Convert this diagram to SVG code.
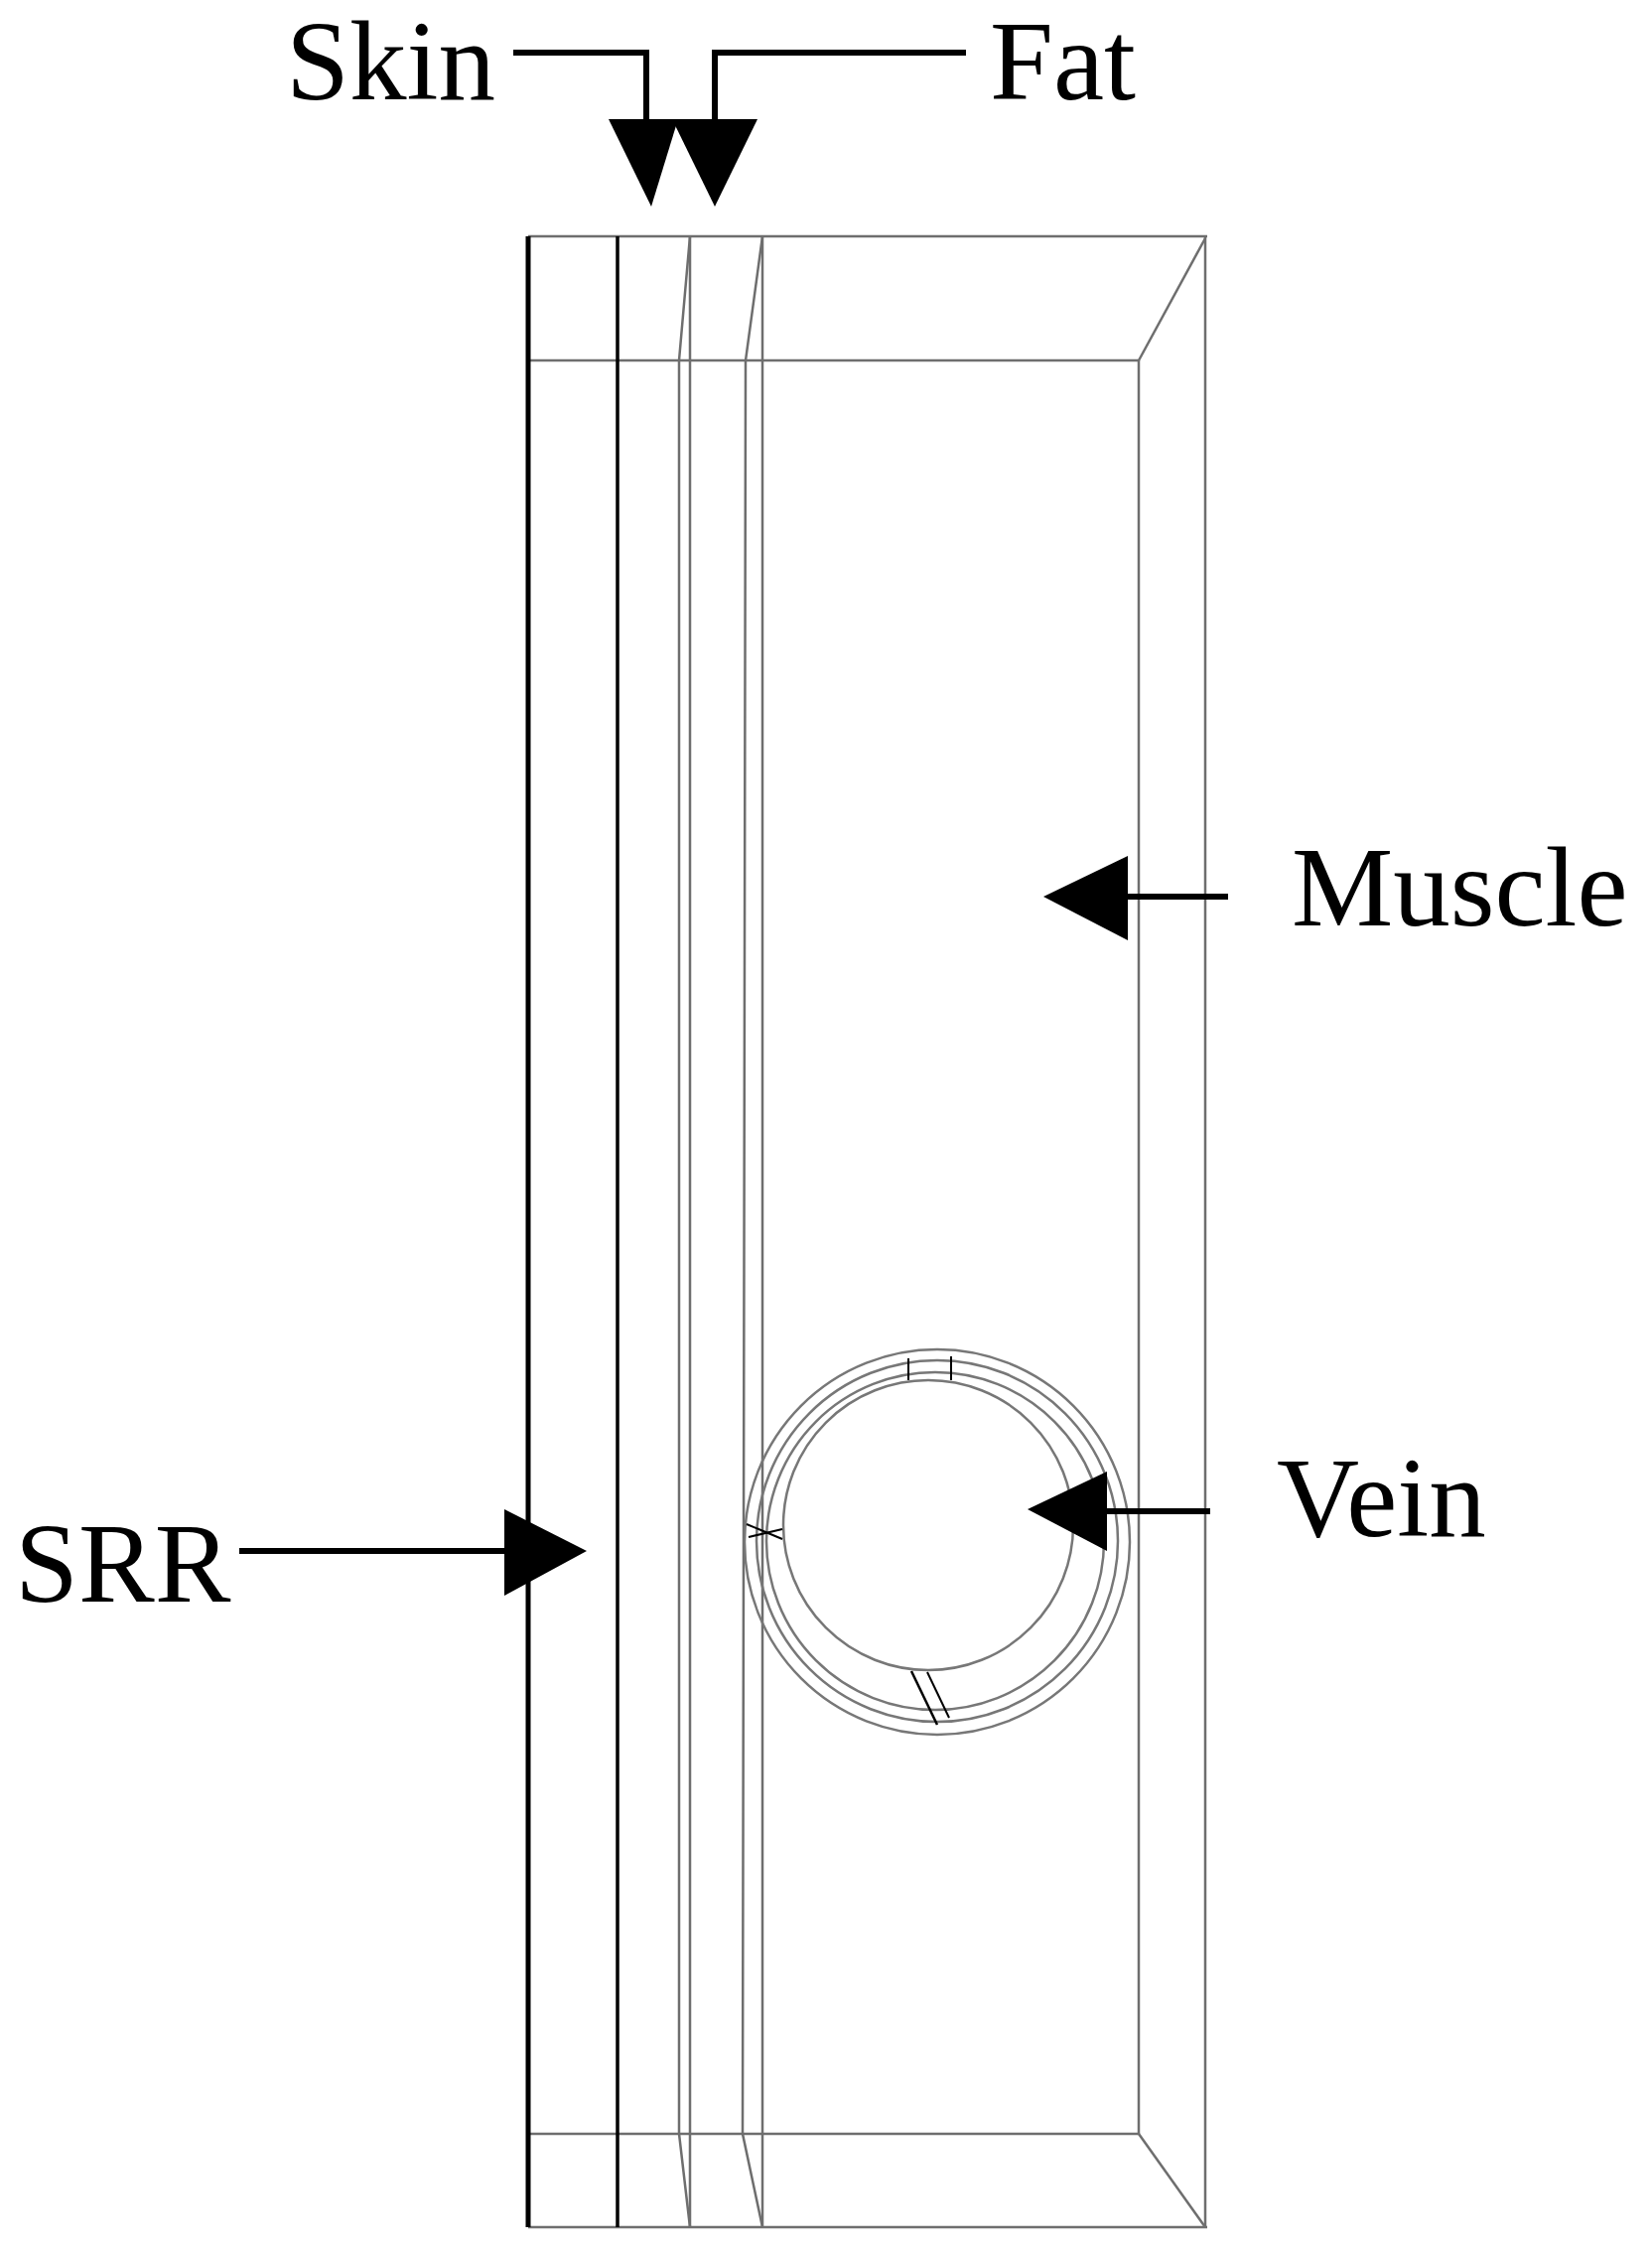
<svg xmlns="http://www.w3.org/2000/svg" width="1664" height="2266" viewBox="0 0 1664 2266">
<style>
.t{font-family:"Liberation Serif","Times New Roman",serif;font-size:115px;fill:#000}
.k{stroke:#000;fill:none}
.g{stroke:#6e6e6e;fill:none;stroke-width:2.5}
.c{stroke:#777;fill:none;stroke-width:2.5}
.ah{fill:#000}
</style>
<rect width="1664" height="2266" fill="#fff"/>
<g id="phantom">
<line class="g" x1="532" y1="238" x2="1216" y2="238" stroke-width="4"/>
<line class="g" x1="532" y1="2243" x2="1216" y2="2243" stroke-width="4"/>
<line class="g" x1="532" y1="363" x2="1147" y2="363" stroke-width="4"/>
<line class="g" x1="532" y1="2149" x2="1147" y2="2149" stroke-width="4"/>
<line class="g" x1="1214" y1="238" x2="1214" y2="2243" stroke-width="3"/>
<line class="g" x1="1147" y1="363" x2="1147" y2="2149"/>
<line class="g" x1="1214" y1="240" x2="1147" y2="363"/>
<line class="g" x1="1147" y1="2149" x2="1214" y2="2243" stroke-width="3"/>
<line class="k" x1="532" y1="238" x2="532" y2="2243" stroke-width="5"/>
<line class="k" x1="622" y1="238" x2="622" y2="2243" stroke-width="3.5"/>
<line class="g" x1="695" y1="238" x2="695" y2="2243"/>
<polyline class="g" points="695,238 684,363 684,2149 695,2243"/>
<line class="g" x1="768" y1="238" x2="768" y2="2243"/>
<polyline class="g" points="768,238 751,363 748,2149 768,2243"/>
</g>
<g id="vein">
<circle class="c" cx="944" cy="1553" r="194"/>
<circle class="c" cx="944" cy="1552" r="182"/>
<circle class="c" cx="942" cy="1552" r="170"/>
<circle class="c" cx="935" cy="1536" r="146"/>
<line class="k" x1="915" y1="1368" x2="915" y2="1390" stroke-width="2"/>
<line class="k" x1="958" y1="1366" x2="958" y2="1390" stroke-width="2"/>
<line class="k" x1="918" y1="1683" x2="944" y2="1737" stroke-width="2.5"/>
<line class="k" x1="934" y1="1684" x2="956" y2="1730" stroke-width="2"/>
<line class="k" x1="752" y1="1535" x2="788" y2="1550" stroke-width="2"/>
<line class="k" x1="754" y1="1548" x2="788" y2="1540" stroke-width="2"/>
</g>
<g id="connectors">
<polyline class="k" stroke-width="6" points="517,53 651,53 651,125"/>
<polygon class="ah" points="613,120 683,120 656,208"/>
<polyline class="k" stroke-width="6" points="973,53 720,53 720,125"/>
<polygon class="ah" points="677,120 763,120 720,208"/>
<line class="k" stroke-width="6" x1="1237" y1="903" x2="1130" y2="903"/>
<polygon class="ah" points="1136,862 1136,947 1051,903"/>
<line class="k" stroke-width="6" x1="1219" y1="1522" x2="1110" y2="1522"/>
<polygon class="ah" points="1115,1482 1115,1562 1035,1520"/>
<line class="k" stroke-width="6" x1="241" y1="1562" x2="512" y2="1562"/>
<polygon class="ah" points="508,1520 508,1607 591,1562"/>
</g>
<g id="labels">
<text class="t" x="288" y="100">Skin</text>
<text class="t" x="997" y="100">Fat</text>
<text class="t" x="1301" y="932">Muscle</text>
<text class="t" x="1286" y="1547">Vein</text>
<text class="t" x="15" y="1613">SRR</text>
</g>
</svg>
